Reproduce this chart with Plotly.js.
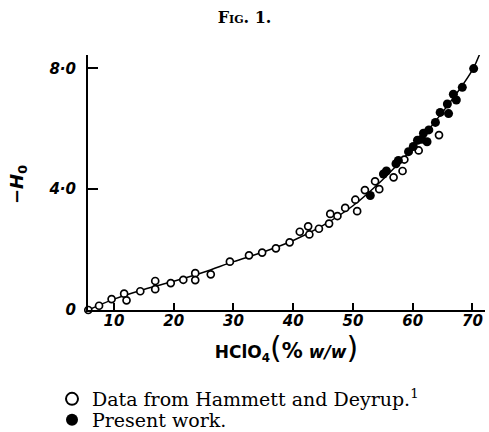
<!DOCTYPE html>
<html>
<head>
<meta charset="utf-8">
<script src="https://cdn.plot.ly/plotly-3.0.1.min.js"></script>
<style>html,body{margin:0;padding:0;background:#fff;}#chart{width:489px;height:432px;}</style>
</head>
<body>
<div id="chart"></div>
<script>
// Hammett & Deyrup data (open circles)
const hdX = [5.7, 7.5, 9.6, 11.7, 12.1, 14.4, 16.9, 16.9, 19.5, 21.6, 23.6, 23.6, 26.2, 29.4, 32.6, 34.8, 37.1, 39.4, 41.1, 42.5, 42.7, 44.3, 46.0, 46.2, 47.4, 48.7, 50.4, 50.7, 52.0, 53.7, 54.4, 56.8, 58.3, 58.6, 61.0, 64.4];
const hdY = [0.0, 0.14, 0.36, 0.54, 0.32, 0.62, 0.96, 0.69, 0.89, 1.0, 1.22, 0.99, 1.18, 1.6, 1.81, 1.9, 2.04, 2.24, 2.59, 2.77, 2.5, 2.69, 2.86, 3.18, 3.11, 3.38, 3.65, 3.27, 3.97, 4.26, 4.0, 4.39, 4.6, 4.98, 5.28, 5.79];
// Present work (filled circles)
const pwX = [52.9, 55.1, 55.6, 57.2, 57.6, 59.3, 60.1, 60.8, 61.5, 61.8, 62.4, 62.7, 63.8, 64.6, 65.8, 66.0, 66.8, 67.3, 68.3, 70.2, 71.3];
const pwY = [3.79, 4.5, 4.6, 4.84, 4.95, 5.24, 5.41, 5.62, 5.65, 5.85, 5.57, 5.96, 6.21, 6.54, 6.82, 6.5, 7.14, 6.95, 7.37, 7.99, 8.52];
// Smooth curve
const curveX = [5.7, 10, 15, 20, 25, 30, 35, 40, 45, 50, 55, 60, 65, 70, 71.3];
const curveY = [0.0, 0.36, 0.68, 0.95, 1.25, 1.6, 1.92, 2.3, 2.8, 3.45, 4.32, 5.35, 6.55, 7.95, 8.52];
// Tick labels
const xTicks = [10, 20, 30, 40, 50, 60, 70];
const yTicks = [0, 4, 8];
const yTickText = ['0', '4·0', '8·0'];
const yTitle = '−<i>H</i><sub>0</sub>';

const tickFont = {family: 'DejaVu Sans', size: 15, color: '#000', weight: 'bold', style: 'italic'};
const serif = 'DejaVu Serif';

const traces = [
  {x: curveX, y: curveY, type: 'scatter', mode: 'lines', line: {color: '#000', width: 1.5, shape: 'spline', smoothing: 1}, showlegend: false, hoverinfo: 'skip', cliponaxis: false},
  {x: hdX, y: hdY, type: 'scatter', mode: 'markers', name: 'Data from Hammett and Deyrup.<sup>1</sup>', legend: 'legend',
   marker: {symbol: 'circle', size: 7, color: '#fff', line: {color: '#000', width: 1.7}}, cliponaxis: false},
  {x: pwX, y: pwY, type: 'scatter', mode: 'markers', name: 'Present work.', legend: 'legend2',
   marker: {symbol: 'circle', size: 9, color: '#000', line: {color: '#000', width: 0}}, cliponaxis: false}
];

const layout = {
  width: 489, height: 432,
  margin: {l: 88, r: 4, t: 55, b: 122, autoexpand: false},
  paper_bgcolor: '#fff', plot_bgcolor: '#fff',
  title: {text: 'Fig. 1.', x: 0.5, xref: 'container', xanchor: 'center', y: 1 - 17/432, yref: 'container', yanchor: 'middle',
          font: {family: serif, size: 16, color: '#000', weight: 'bold', variant: 'small-caps'}},
  xaxis: {range: [5.65, 72.1], tickvals: xTicks, ticktext: xTicks.map(String), ticks: 'inside', ticklen: 7, tickwidth: 2, tickcolor: '#000',
          showline: true, linewidth: 2, linecolor: '#000', showgrid: false, zeroline: false, tickfont: tickFont, ticklabelstandoff: -4, tickangle: 0, automargin: false,
          title: {text: 'HClO<sub>4</sub><span style="font-size:30px;font-weight:normal">(</span><span style="font-size:21px">%</span> <i>w/w</i><span style="font-size:30px;font-weight:normal">)</span>', standoff: 14,
                  font: {family: 'DejaVu Sans', size: 17, color: '#000', weight: 'bold'}}},
  yaxis: {range: [0, 8.44], tickvals: yTicks, ticktext: yTickText, ticks: 'inside', ticklen: 10, tickwidth: 2, tickcolor: '#000',
          showline: true, linewidth: 2, linecolor: '#000', showgrid: false, zeroline: false, tickfont: tickFont, ticklabelstandoff: 7, automargin: false},
  annotations: [
    {text: yTitle, xref: 'paper', yref: 'paper', x: (18 - 88) / 397, y: (310 - 185) / 255, xanchor: 'center', yanchor: 'middle',
     textangle: -90, showarrow: false, font: {family: 'DejaVu Sans', size: 18, color: '#000', weight: 'bold'}}
  ],
  legend: {xref: 'container', yref: 'container', x: 52/489, y: 1 - 380/432, xanchor: 'left', yanchor: 'top', itemsizing: 'constant',
           font: {family: serif, size: 19, color: '#000'}, bgcolor: 'rgba(0,0,0,0)', borderwidth: 0},
  legend2: {xref: 'container', yref: 'container', x: 52/489, y: 1 - 401/432, xanchor: 'left', yanchor: 'top', itemsizing: 'constant',
           font: {family: serif, size: 19, color: '#000'}, bgcolor: 'rgba(0,0,0,0)', borderwidth: 0},
  showlegend: true
};

Plotly.newPlot('chart', traces, layout, {displayModeBar: false, staticPlot: true});
</script>
</body>
</html>
